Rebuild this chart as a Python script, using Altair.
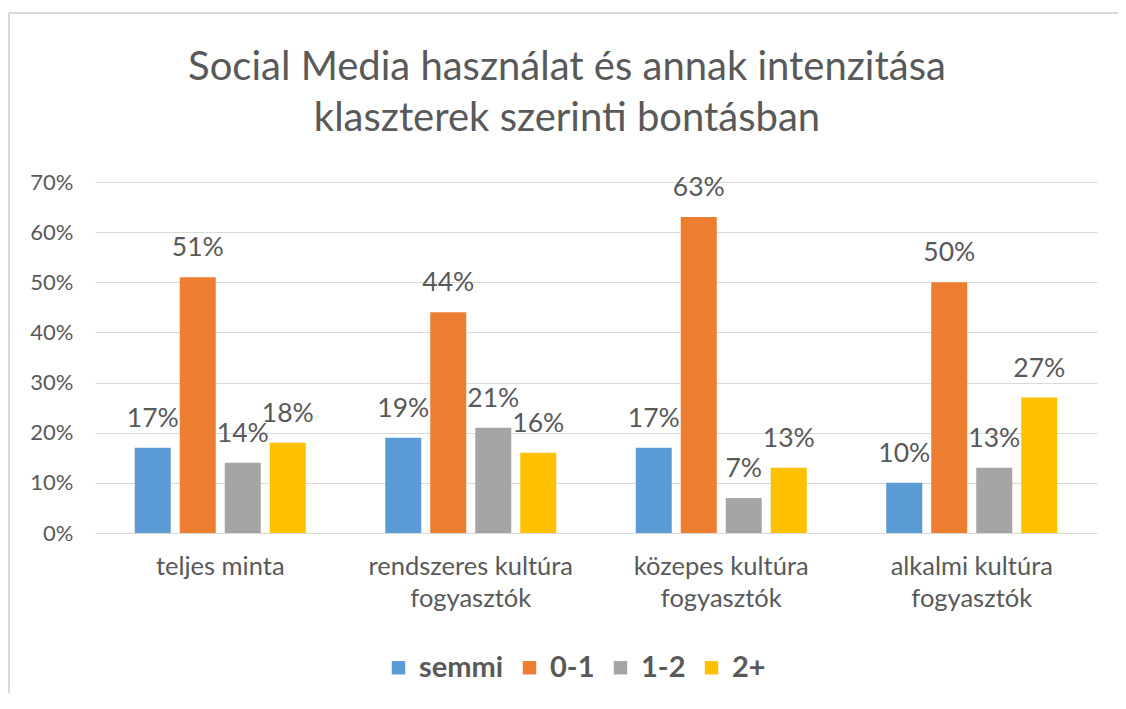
import altair as alt
import pandas as pd

title_lines = ["Social Media használat és annak intenzitása", "klaszterek szerinti bontásban"]
categories = ["teljes minta", "rendszeres kultúra fogyasztók", "közepes kultúra fogyasztók", "alkalmi kultúra fogyasztók"]
series = ["semmi", "0-1", "1-2", "2+"]
semmi = [0.17, 0.19, 0.17, 0.10]
nulla_egy = [0.51, 0.44, 0.63, 0.50]
egy_ketto = [0.14, 0.21, 0.07, 0.13]
ketto_plusz = [0.18, 0.16, 0.13, 0.27]
y_ticks = [0, 0.1, 0.2, 0.3, 0.4, 0.5, 0.6, 0.7]
colors = ["#5B9BD5", "#ED7D31", "#A5A5A5", "#FFC000"]

rows = []
for s, vals in zip(series, [semmi, nulla_egy, egy_ketto, ketto_plusz]):
    for c, v in zip(categories, vals):
        rows.append({"kat": c, "sor": s, "ertek": v})
df = pd.DataFrame(rows)

FONT = "Lato"
TXT = "#595959"

x_enc = alt.X("kat:N", sort=categories, title=None,
              scale=alt.Scale(paddingInner=0, paddingOuter=0),
              axis=alt.Axis(labelAngle=0, ticks=False, domain=False, labelPadding=21,
                            labelFontSize=25.5, labelColor=TXT, labelFont=FONT,
                            labelLineHeight=32, labelBaseline="top", labelLimit=400,
                            labelExpr="indexof(datum.label, ' fogyasztók') > 0 ? [replace(datum.label, ' fogyasztók', ''), 'fogyasztók'] : datum.label"))
xo_enc = alt.XOffset("sor:N", sort=series,
                     scale=alt.Scale(paddingInner=0.2, paddingOuter=0.883))
y_enc = alt.Y("ertek:Q", title=None,
              scale=alt.Scale(domain=[0, 0.7], nice=False),
              axis=alt.Axis(values=y_ticks, format=".0%", ticks=False, domain=False,
                            gridColor="#D9D9D9", gridWidth=1, labelPadding=22,
                            labelFontSize=22, labelColor=TXT, labelFont=FONT))
color_enc = alt.Color("sor:N", sort=series, title=None,
                      scale=alt.Scale(domain=series, range=colors),
                      legend=alt.Legend(orient="none", direction="horizontal",
                                        legendX=289, legendY=471,
                                        symbolType="square", symbolSize=180,
                                        symbolStrokeWidth=0,
                                        labelFontSize=29, labelFontWeight="bold",
                                        labelColor=TXT, labelFont=FONT,
                                        labelOffset=6, columnPadding=11))

base = alt.Chart(df)
bars = base.mark_bar().encode(x=x_enc, xOffset=xo_enc, y=y_enc, color=color_enc)
labels = base.mark_text(dy=-21, baseline="alphabetic", fontSize=26.5, font=FONT, color=TXT).encode(
    x=alt.X("kat:N", sort=categories), xOffset=alt.XOffset("sor:N", sort=series),
    y="ertek:Q", text=alt.Text("ertek:Q", format=".0%"))

frame = pd.DataFrame({"k": [0]})
top_line = alt.Chart(frame).mark_rule(color="#D9D9D9", strokeWidth=2).encode(
    x=alt.value(-86), x2=alt.value(1040), y=alt.value(-169))
left_line = alt.Chart(frame).mark_rule(color="#D9D9D9", strokeWidth=2).encode(
    x=alt.value(-86), y=alt.value(-169), y2=alt.value(600))
title_mark = alt.Chart(frame).mark_text(
    fontSize=40, font=FONT, color=TXT, lineHeight=51, baseline="alphabetic", align="center"
).encode(x=alt.value(472), y=alt.value(-102), text=alt.value(title_lines))

chart = alt.layer(top_line, left_line, title_mark, bars, labels).properties(
    width=1002, height=351,
    autosize=alt.AutoSizeParams(type="none"),
    padding={"left": 87, "top": 174, "right": 21, "bottom": 160},
).configure_view(stroke=None)

chart.save("out.html", embed_options={"renderer": "svg", "actions": False})
